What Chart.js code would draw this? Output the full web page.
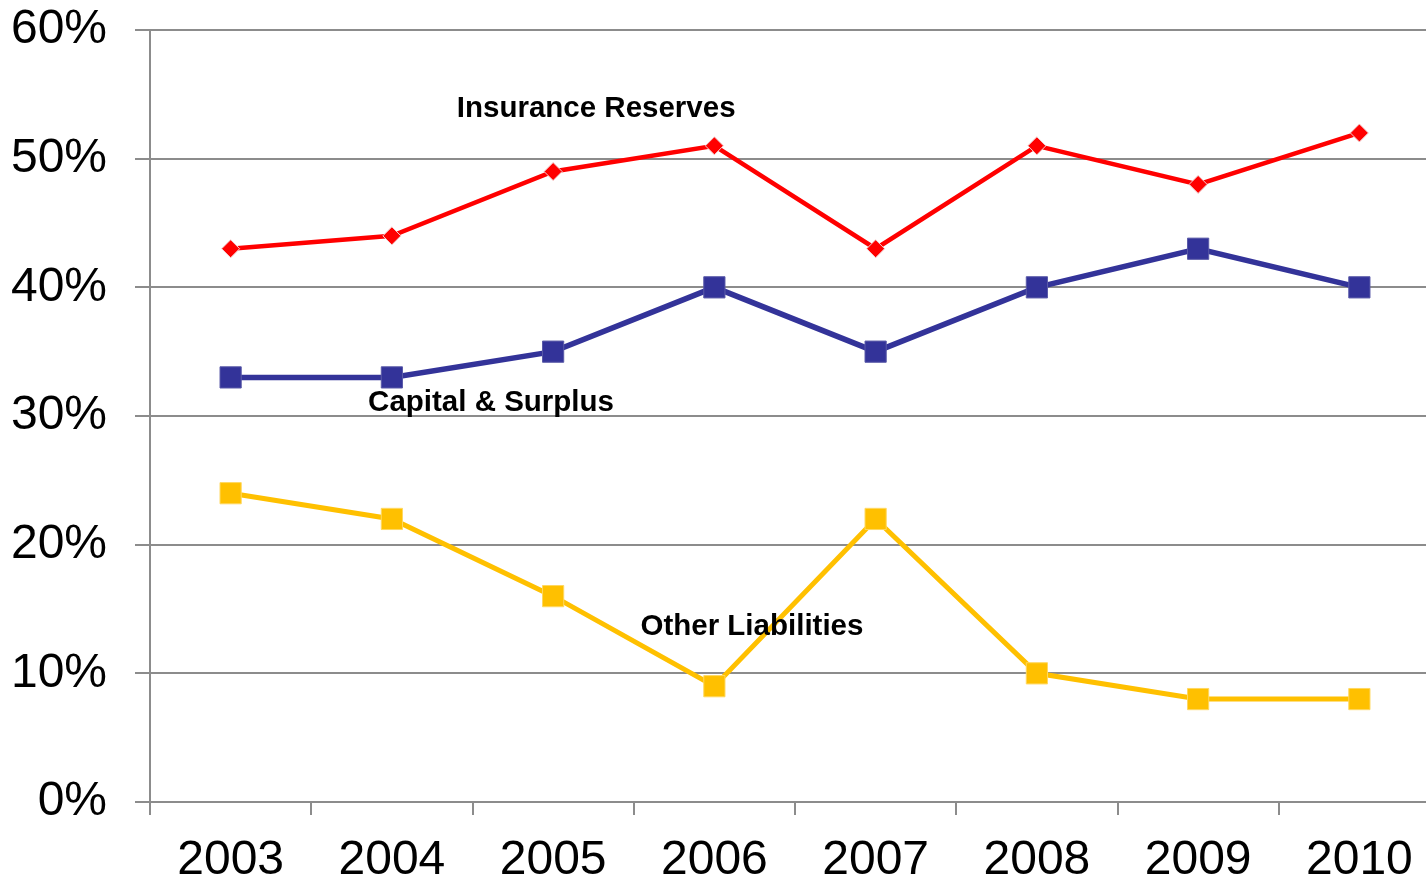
<!DOCTYPE html>
<html>
<head>
<meta charset="utf-8">
<script src="https://cdn.jsdelivr.net/npm/chart.js@4"></script>
<style>
  html, body { margin: 0; padding: 0; background: #fff; overflow: hidden; }
</style>
</head>
<body>
<canvas id="chart" width="1456" height="879"></canvas>
<script>
// dati
const anni = ['2003', '2004', '2005', '2006', '2007', '2008', '2009', '2010'];
const riserve = [43, 44, 49, 51, 43, 51, 48, 52];     // Insurance Reserves
const capitale = [33, 33, 35, 40, 35, 40, 43, 40];    // Capital & Surplus
const altre = [24, 22, 16, 9, 22, 10, 8, 8];          // Other Liabilities
const tickY = [0, 10, 20, 30, 40, 50, 60];

// scritte dentro il grafico (indice categoria, valore)
const etichette = [
  { testo: 'Insurance Reserves', x: 2.267, y: 53.9 },
  { testo: 'Capital & Surplus', x: 1.615, y: 31.0 },
  { testo: 'Other Liabilities', x: 3.233, y: 13.6 }
];

const font = '"Liberation Sans", Arial, sans-serif';
const grigio = '#8c8c8c';

const scritte = {
  id: 'scritte',
  afterDatasetsDraw(chart) {
    const ctx = chart.ctx;
    const sx = chart.scales.x, sy = chart.scales.y;
    ctx.save();
    ctx.font = 'bold 29.5px ' + font;
    ctx.fillStyle = '#000';
    ctx.textAlign = 'center';
    ctx.textBaseline = 'middle';
    etichette.forEach(e => {
      ctx.fillText(e.testo, sx.getPixelForValue(e.x), sy.getPixelForValue(e.y));
    });
    ctx.restore();
  }
};

const chart = new Chart(document.getElementById('chart').getContext('2d'), {
  type: 'line',
  data: {
    labels: anni,
    datasets: [{
      label: 'Insurance Reserves',
      data: riserve,
      borderColor: '#ff0000',
      backgroundColor: '#ff0000',
      borderWidth: 4.5,
      pointStyle: 'rectRot',
      pointRadius: 9,
      pointBorderColor: '#f0d0d0',
      pointBorderWidth: 1
    }, {
      label: 'Capital & Surplus',
      data: capitale,
      borderColor: '#333399',
      backgroundColor: '#333399',
      borderWidth: 5.5,
      pointStyle: 'rect',
      pointRadius: 15,
      pointBorderColor: '#5a5aa8',
      pointBorderWidth: 1
    }, {
      label: 'Other Liabilities',
      data: altre,
      borderColor: '#ffc000',
      backgroundColor: '#ffc000',
      borderWidth: 5,
      pointStyle: 'rect',
      pointRadius: 15,
      pointBorderColor: '#ffd860',
      pointBorderWidth: 1
    }]
  },
  options: {
    responsive: false,
    animation: false,
    layout: { padding: { left: 12, top: 30, right: 2, bottom: 0 } },
    plugins: {
      legend: { display: false },
      tooltip: { enabled: false }
    },
    scales: {
      x: {
        offset: true,
        afterFit: (scale) => {
          scale.height = 77;
          scale.paddingLeft = 0;
          scale.paddingRight = 0;
        },
        grid: {
          offset: true,
          drawOnChartArea: false,
          tickLength: 13,
          color: grigio,
          lineWidth: 2
        },
        border: { display: true, color: grigio, width: 2 },
        ticks: {
          color: '#000',
          padding: 17,
          font: { family: font, size: 48 }
        }
      },
      y: {
        min: 0,
        max: 60,
        afterBuildTicks: (scale) => { scale.ticks = tickY.map(v => ({ value: v })); },
        afterFit: (scale) => {
          scale.width = 138;
          scale.paddingTop = 0;
          scale.paddingBottom = 0;
        },
        grid: {
          color: grigio,
          lineWidth: 2,
          tickLength: 15
        },
        border: { display: true, color: grigio, width: 2 },
        ticks: {
          color: '#000',
          padding: 28,
          font: { family: font, size: 48 },
          callback: (v) => v + '%'
        }
      }
    }
  },
  plugins: [scritte]
});
</script>
</body>
</html>
